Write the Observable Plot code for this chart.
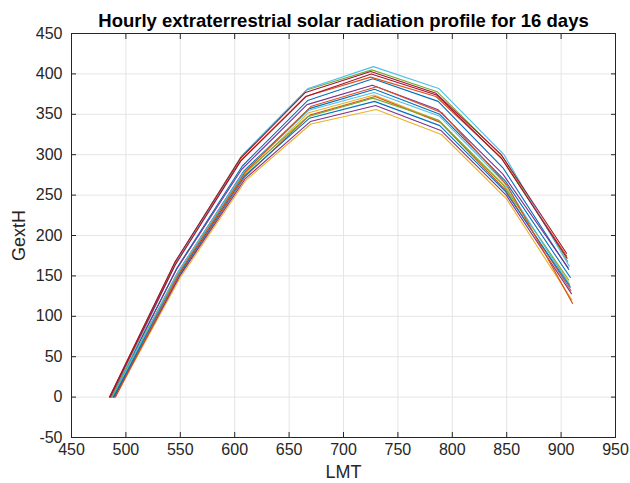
<!DOCTYPE html>
<html><head><meta charset="utf-8">
<script src="https://cdn.jsdelivr.net/npm/d3@7"></script>
<script src="https://cdn.jsdelivr.net/npm/@observablehq/plot@0.6"></script>
<style>body{margin:0;background:#fff;font-family:"Liberation Sans",Arial,sans-serif}</style>
</head><body><div id="chart"></div>
<script>
// First LMT (minutes) of each of the 16 daily profiles
const startLMT = [487, 485, 488, 486.5, 486, 487.5, 485, 488.5, 489, 490, 489.5, 487, 488, 485.5, 488.5, 490.5];
// Minutes after the first point
const stepMinutes = [0, 60, 120, 180, 240, 300, 360, 420];
// Hourly GextH values per day
const day01 = [0, 160, 286, 367, 394, 366, 283, 158];
const day02 = [0, 166, 292, 372, 396, 372, 296, 175];
const day03 = [0, 152, 274, 352, 374, 342, 262, 140];
const day04 = [0, 158, 282, 362, 386, 356, 276, 160];
const day05 = [0, 168, 298, 380, 405, 378, 298, 168];
const day06 = [0, 170, 300, 382, 409, 382, 300, 162];
const day07 = [0, 167, 295, 377, 403, 376, 300, 178];
const day08 = [0, 156, 280, 357, 381, 350, 268, 148];
const day09 = [0, 150, 272, 349, 372, 340, 256, 132];
const day10 = [0, 148, 268, 338, 356, 325, 245, 120];
const day11 = [0, 150, 270, 341, 361, 330, 250, 128];
const day12 = [0, 153, 275, 347, 370, 343, 262, 145];
const day13 = [0, 155, 278, 355, 377, 348, 265, 138];
const day14 = [0, 164, 292, 372, 400, 374, 295, 172];
const day15 = [0, 151, 273, 345, 366, 336, 255, 136];
const day16 = [0, 157, 280, 360, 384, 352, 262, 116];
const days = [day01, day02, day03, day04, day05, day06, day07, day08, day09, day10, day11, day12, day13, day14, day15, day16];
const palette = ["#0072BD", "#D95319", "#EDB120", "#7E2F8E", "#77AC30", "#4DBEEE", "#A2142F"];
const xTicks = [450, 500, 550, 600, 650, 700, 750, 800, 850, 900, 950];
const yTicks = [-50, 0, 50, 100, 150, 200, 250, 300, 350, 400, 450];
const titleText = "Hourly extraterrestrial solar radiation profile for 16 days";

const rows = [];
days.forEach((vals, i) => {
  vals.forEach((v, k) => rows.push({day: i, lmt: startLMT[i] + stepMinutes[k], g: v, color: palette[i % palette.length]}));
});

const ink = "#262626";
const chart = Plot.plot({
  width: 630, height: 483,
  marginLeft: 71, marginRight: 15, marginTop: 33, marginBottom: 46,
  style: {fontFamily: '"Liberation Sans", Arial, sans-serif', color: ink, background: "#fff"},
  x: {domain: [450, 950]},
  y: {domain: [-50, 450]},
  marks: [
    Plot.gridX(xTicks, {stroke: "#e5e5e5", strokeOpacity: 1}),
    Plot.gridY(yTicks, {stroke: "#e5e5e5", strokeOpacity: 1}),
    Plot.axisX({ticks: xTicks, tickSize: -5, tickPadding: 11, fontSize: 16, tickFormat: d => String(d), label: null}),
    Plot.axisX({ticks: xTicks, anchor: "top", tickSize: -5, text: null, label: null}),
    Plot.axisY({ticks: yTicks, tickSize: -5, tickPadding: 14, fontSize: 16, tickFormat: d => String(d), label: null}),
    Plot.axisY({ticks: yTicks, anchor: "right", tickSize: -5, text: null, label: null}),
    Plot.line(rows, {x: "lmt", y: "g", z: "day", stroke: "color", strokeWidth: 1.1}),
    Plot.frame({stroke: ink}),
    Plot.text([titleText], {frameAnchor: "top", lineAnchor: "bottom", dy: -7, fontWeight: "bold", fontSize: 18.5, fill: "#000"}),
    Plot.text(["LMT"], {frameAnchor: "bottom", lineAnchor: "middle", dy: 35, fontSize: 18, fill: ink}),
    Plot.text(["GextH"], {frameAnchor: "left", dx: -52, textAnchor: "middle", rotate: -90, fontSize: 18, fill: ink})
  ]
});
document.getElementById("chart").appendChild(chart);
</script>
</body></html>
